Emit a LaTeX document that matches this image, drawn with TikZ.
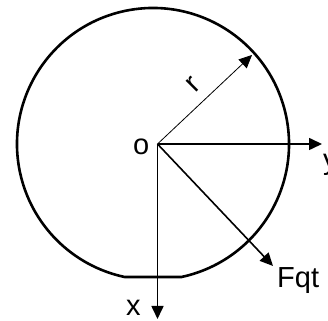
\documentclass[tikz,border=0pt]{standalone}
\usepackage{fontspec}
\setmainfont{Liberation Sans}
\usetikzlibrary{arrows.meta}
\begin{document}
\begin{tikzpicture}[x=1pt,y=1pt,
  axis/.style={line width=1.6pt,-{Triangle[length=13pt,width=12pt]}},
  thinarrow/.style={line width=0.8pt,-{Triangle[length=13pt,width=12pt]}},
  lbl/.style={inner sep=0pt,font=\fontsize{29}{32}\selectfont}]
\useasboundingbox (0,0) rectangle (328,320);
\coordinate (c) at (153,176);
\coordinate (O) at (157.5,176);
\coordinate (ytip) at (322,176);
\coordinate (xtip) at (157.5,1);
\coordinate (rtip) at (252,265);
\coordinate (ftip) at (273,54);
\draw[line width=2.6pt] ([shift={(-77.96:136)}]c) arc[start angle=-77.96,end angle=257.96,radius=136] -- cycle;
\draw[axis] (O) -- (ytip);
\draw[axis] (O) -- (xtip);
\draw[axis] (O) -- (ftip);
\draw[thinarrow] (O) -- (rtip);
\node[lbl,anchor=base west] (o) at (133,165) {o};
\node[lbl,anchor=base west] (xl) at (126,5) {x};
\node[lbl,anchor=base west] (yl) at (323,150) {y};
\node[lbl,anchor=base west] (fl) at (277,32) {Fqt};
\node[lbl,rotate=45] (rl) at (193,235) {r};
\end{tikzpicture}
\end{document}
